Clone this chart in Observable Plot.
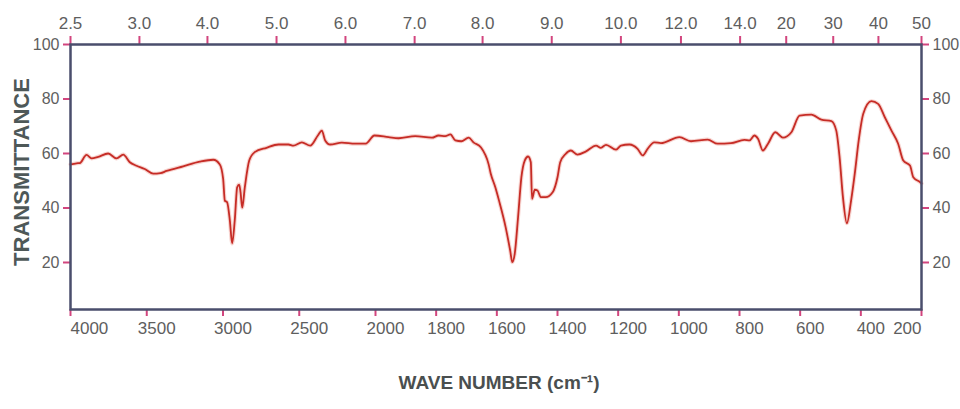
<!DOCTYPE html>
<html><head><meta charset="utf-8">
<script src="https://cdn.jsdelivr.net/npm/d3@7"></script>
<script src="https://cdn.jsdelivr.net/npm/@observablehq/plot@0.6"></script>
<style>html,body{margin:0;padding:0;background:#fff}</style>
</head><body><div id="chart"></div>
<script>
// IR spectrum
const wavenumber = [4000,3960,3939,3895,3862,3818,3753,3698,3654,3611,3567,3513,3458,3410,3370,3261,3152,3064,3021,2999,2988,2973,2955,2940,2923,2907,2894,2885,2874,2857,2828,2792,2715,2636,2571,2538,2483,2428,2378,2352,2330,2297,2221,2133,2064,2007,1957,1924,1869,1814,1792,1770,1753,1737,1717,1693,1676,1653,1627,1620,1605,1593,1571,1556,1549,1541,1530,1519,1508,1497,1488,1484,1475,1466,1455,1439,1416,1400,1391,1373,1356,1334,1306,1273,1257,1240,1207,1191,1163,1136,1119,1103,1081,1059,998,960,905,872,828,784,767,751,739,723,706,682,657,629,602,563,530,497,481,470,459,446,432,420,407,392,365,343,321,299,277,260,238,227,205,200];
const transmittance = [56.0,56.4,56.5,59.5,58.2,58.8,60.0,58.2,59.6,56.8,55.5,54.3,52.6,52.8,53.6,55.3,57.0,57.7,56.0,50.7,42.7,42.1,35.4,27.0,35.4,47.6,48.6,45.8,40.1,47.6,57.4,60.5,62.1,63.3,63.3,62.9,64.1,62.9,66.6,68.4,64.8,63.3,64.0,63.6,63.6,66.6,66.0,65.6,66.4,65.8,66.6,66.4,67.0,64.8,64.5,65.8,64.0,62.3,56.0,52.6,47.6,42.8,33.0,24.4,20.1,23.2,36.6,51.3,57.4,58.9,56.8,43.4,46.7,46.4,44.0,44.0,45.8,51.3,56.8,59.9,61.1,59.6,60.8,62.9,62.1,63.2,61.4,62.9,63.3,61.7,59.3,61.7,64.1,63.8,66.0,64.5,65.1,63.6,63.8,65.0,64.8,66.6,65.4,61.1,63.6,67.8,65.8,67.8,73.9,74.3,72.4,71.9,68.4,58.6,44.0,34.4,42.8,52.6,64.8,74.6,79.2,78.2,73.3,68.4,63.6,57.4,55.6,51.3,49.5,49.0];

const bottomTicks = [4000,3500,3000,2500,2000,1800,1600,1400,1200,1000,800,600,400,200];
const topTickLabels = ["2.5","3.0","4.0","5.0","6.0","7.0","8.0","9.0","10.0","12.0","14.0","20","30","40","50"];
const topTickPositions = [4000,3548,3102,2649,2197,1871,1647,1419,1191,993,798,646,491,342,200];
const yTicks = [20,40,60,80,100];

const spectrum = wavenumber.map((w, i) => ({w, t: transmittance[i]}));

const pink = "#d2457e";
const labelGray = "#5e5e5e";

const chart = Plot.plot({
  width: 960,
  height: 409,
  marginTop: 44,
  marginBottom: 100,
  marginLeft: 70,
  marginRight: 39,
  style: {fontFamily: "'Liberation Sans', Arial, sans-serif", background: "#fff"},
  x: {type: "linear", domain: [4000, 2000, 200], range: [70, 375, 921]},
  y: {domain: [2.75, 100]},
  marks: [
    Plot.line(spectrum, {x: "w", y: "t", stroke: "#f2b8b0", strokeWidth: 4, strokeOpacity: 0.6, curve: "monotone-x"}),
    Plot.line(spectrum, {x: "w", y: "t", stroke: "#c62c26", strokeWidth: 1.8, curve: "monotone-x"}),
    Plot.axisX(bottomTicks, {anchor: "bottom", tickSize: 7, stroke: pink, strokeWidth: 2, fill: "none", label: null}),
    Plot.axisX(topTickPositions, {anchor: "top", tickSize: 9, stroke: pink, strokeWidth: 2, fill: "none", label: null}),
    Plot.axisY(yTicks, {anchor: "left", tickSize: 7, stroke: pink, strokeWidth: 2, fill: labelGray, fontSize: 16, tickPadding: 4, label: null}),
    Plot.axisY(yTicks, {anchor: "right", tickSize: 7, stroke: pink, strokeWidth: 2, fill: labelGray, fontSize: 16, tickPadding: 4, label: null}),
    Plot.frame({stroke: "#4a4e6c", strokeWidth: 2.5}),
    Plot.text(bottomTicks.slice(0, 1), {x: d => d, text: d => String(d), frameAnchor: "bottom", dy: 19, textAnchor: "start", lineAnchor: "middle", fontSize: 17, fill: labelGray}),
    Plot.text(bottomTicks.slice(1, -1), {x: d => d, text: d => String(d), frameAnchor: "bottom", dy: 19, dx: 10, lineAnchor: "middle", fontSize: 17, fill: labelGray}),
    Plot.text(bottomTicks.slice(-1), {x: d => d, text: d => String(d), frameAnchor: "bottom", dy: 19, textAnchor: "end", lineAnchor: "middle", fontSize: 17, fill: labelGray}),
    Plot.text(topTickLabels, {x: (d, i) => topTickPositions[i], text: d => d, frameAnchor: "top", dy: -21, lineAnchor: "middle", fontSize: 17, fill: labelGray}),
    Plot.text(["TRANSMITTANCE"], {frameAnchor: "left", dx: -49, dy: -5, rotate: -90, textAnchor: "middle", fontWeight: "bold", fontSize: 22, fill: "#4e5858", lineAnchor: "middle"}),
    Plot.text(["WAVE NUMBER (cm⁻¹)"], {frameAnchor: "bottom", dx: 3, dy: 73, textAnchor: "middle", fontWeight: "bold", fontSize: 19, fill: "#4a4f4f", lineAnchor: "middle"})
  ]
});
document.getElementById("chart").appendChild(chart);
</script>
</body></html>
